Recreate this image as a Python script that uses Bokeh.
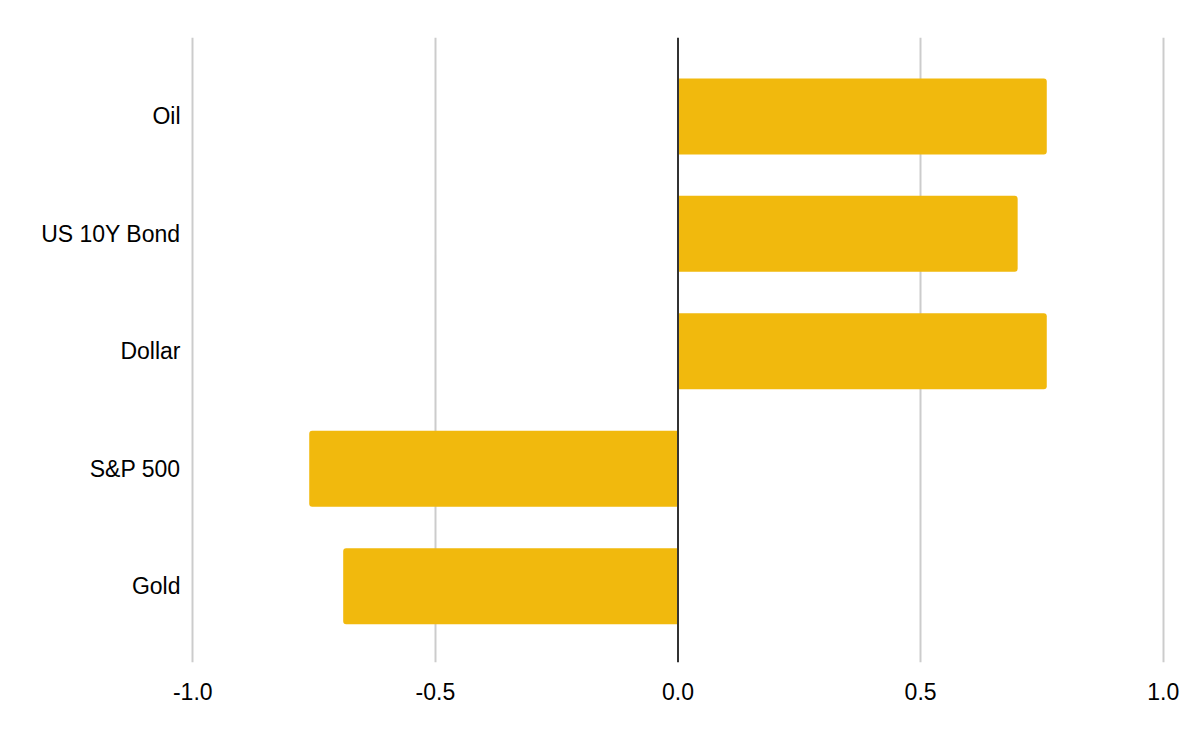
from bokeh.plotting import figure
from bokeh.models import ColumnDataSource, FixedTicker, Range1d, Span
from bokeh.embed import file_html
from bokeh.resources import INLINE

categories = ["Oil", "US 10Y Bond", "Dollar", "S&P 500", "Gold"]
values = [0.76, 0.70, 0.76, -0.76, -0.69]
x_ticks = [-1.0, -0.5, 0.0, 0.5, 1.0]
x_tick_labels = ["-1.0", "-0.5", "0.0", "0.5", "1.0"]

n = len(categories)
ypos = [n - 1 - i for i in range(n)]

pos = dict(y=[], v=[])
neg = dict(y=[], v=[])
for y, v in zip(ypos, values):
    d = pos if v >= 0 else neg
    d["y"].append(y)
    d["v"].append(v)

BAR = "#F1B90D"
FONT = "Liberation Sans"

p = figure(width=1184, height=726, output_backend="svg", toolbar_location=None,
           x_range=Range1d(-1.0047, 1.0047), y_range=Range1d(-0.650, 4.672),
           min_border_left=190, min_border_right=19, min_border_top=37,
           min_border_bottom=64)
p.outline_line_color = None
p.background_fill_color = "white"
p.border_fill_color = "white"

p.hbar(y="y", left=0, right="v", height=0.647, source=ColumnDataSource(pos),
       fill_color=BAR, line_color=None, border_radius=(0, 3, 3, 0))
p.hbar(y="y", left="v", right=0, height=0.647, source=ColumnDataSource(neg),
       fill_color=BAR, line_color=None, border_radius=(3, 0, 0, 3))

p.add_layout(Span(location=0, dimension="height", line_color="#333333", line_width=2))

xa = p.xaxis[0]
xa.ticker = FixedTicker(ticks=x_ticks)
xa.major_label_overrides = {t: l for t, l in zip(x_ticks, x_tick_labels)}
xa.axis_line_color = None
xa.major_tick_line_color = None
xa.minor_tick_line_color = None
xa.major_label_standoff = 14
xa.major_label_text_font = FONT
xa.major_label_text_font_size = "23px"
xa.major_label_text_color = "#000000"

ya = p.yaxis[0]
ya.ticker = FixedTicker(ticks=ypos)
ya.major_label_overrides = {y: c for y, c in zip(ypos, categories)}
ya.axis_line_color = None
ya.major_tick_line_color = None
ya.minor_tick_line_color = None
ya.major_label_standoff = 4
ya.major_label_text_font = FONT
ya.major_label_text_font_size = "23px"
ya.major_label_text_color = "#000000"

p.xgrid[0].ticker = FixedTicker(ticks=[-1.0, -0.5, 0.5, 1.0])
p.xgrid[0].grid_line_color = "#cccccc"
p.xgrid[0].grid_line_width = 2
p.ygrid[0].grid_line_color = None

open("out.html", "w").write(file_html(p, INLINE))
